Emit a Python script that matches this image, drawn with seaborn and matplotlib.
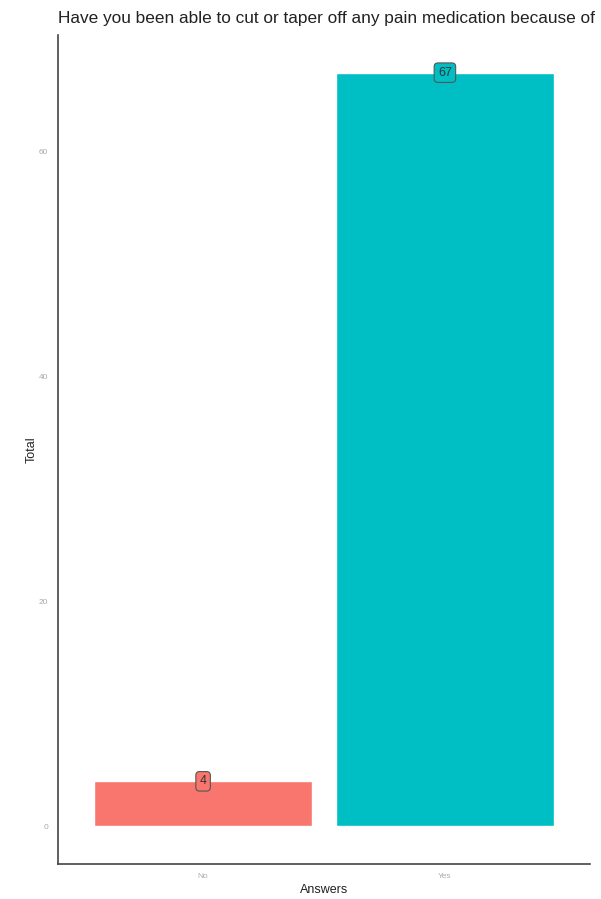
import matplotlib
matplotlib.use("Agg")
import matplotlib.pyplot as plt
import seaborn as sns
import pandas as pd

# data
answers = ["No", "Yes"]
totals = [4, 67]
bar_colors = ["#F8766D", "#00BFC4"]
title = "Have you been able to cut or taper off any pain medication because of medical cannabis?"

df = pd.DataFrame({"Answers": answers, "Total": totals})

sns.set_style("white")
plt.rcParams["font.family"] = ["Liberation Sans", "DejaVu Sans"]

fig = plt.figure(figsize=(6.01, 8.99), dpi=100)
ax = fig.add_axes([58 / 601, 35 / 899, (590 - 58) / 601, (864 - 35) / 899])

sns.barplot(data=df, x="Answers", y="Total", hue="Answers", palette=bar_colors,
            width=0.9, legend=False, ax=ax, saturation=1)

# value labels on top of each bar
for i, v in enumerate(totals):
    ax.text(i, v, str(v), ha="center", va="center", fontsize=9, color="#333333",
            bbox=dict(boxstyle="round,pad=0.3", facecolor=bar_colors[i],
                      edgecolor="#555555", linewidth=0.8))

ax.set_xlim(-0.6, 1.6)
ax.set_ylim(-3.35, 70.35)
ax.set_yticks([0, 20, 40, 60])
ax.tick_params(axis="both", labelsize=6, colors="#bbbbbb", length=3, width=0.6,
               labelcolor="#aaaaaa")
ax.tick_params(axis="y", pad=4)

for side in ["top", "right"]:
    ax.spines[side].set_visible(False)
for side in ["left", "bottom"]:
    ax.spines[side].set_color("#444444")
    ax.spines[side].set_linewidth(1.2)

ax.set_xlabel("Answers", fontsize=9, color="#222222", labelpad=3)
ax.set_ylabel("Total", fontsize=9, color="#222222", labelpad=1)

# title is cut at the right edge in the reference too
fig.text(58 / 601, 1 - 18 / 899, title, fontsize=12.4, color="#222222",
         ha="left", va="center")

fig.savefig("out.png", dpi=100)
